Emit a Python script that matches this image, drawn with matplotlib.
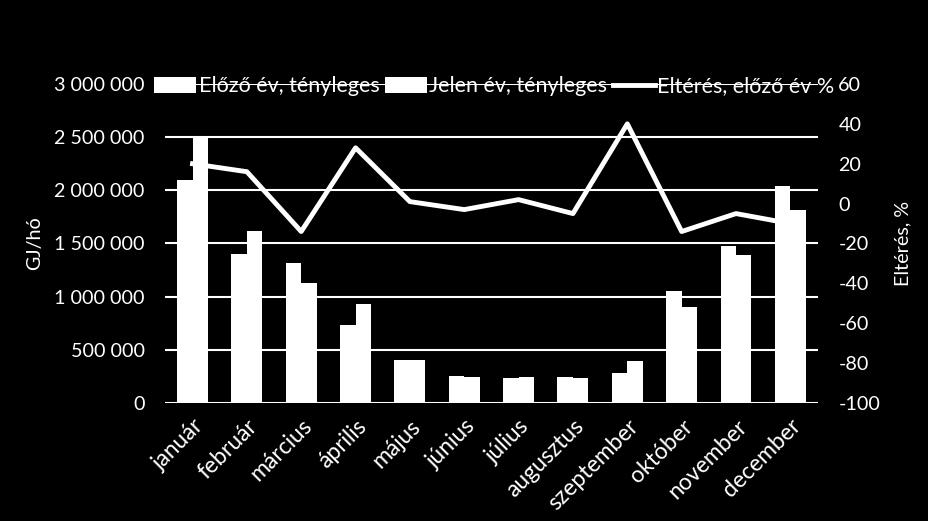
import numpy as np
import matplotlib
matplotlib.use("Agg")
import matplotlib.pyplot as plt

plt.rcParams['font.family'] = ['Lato', 'DejaVu Sans']
plt.rcParams['axes.unicode_minus'] = False

months = ['január', 'február', 'március', 'április', 'május', 'június',
          'július', 'augusztus', 'szeptember', 'október', 'november', 'december']
elozo_ev = [2100000, 1400000, 1314000, 734000, 400000, 254000,
            235000, 245000, 282000, 1051000, 1477000, 2041000]
jelen_ev = [2500000, 1620000, 1129000, 931000, 405000, 242000,
            245000, 235000, 395000, 903000, 1392000, 1816000]
elteres = [20, 16, -14, 28, 1, -3, 2, -5, 40, -14, -5, -10]

fs = 14.2
fig = plt.figure(figsize=(9.29, 5.21), dpi=100, facecolor='black')
ax = fig.add_axes([0.178, 0.2265, 0.702, 0.6123])
ax.set_facecolor('black')

x = np.arange(len(months))
w = 0.285
b1 = ax.bar(x - w / 2, elozo_ev, w, color='white', label='Előző év, tényleges', zorder=3)
b2 = ax.bar(x + w / 2, jelen_ev, w, color='white', label='Jelen év, tényleges', zorder=3)

ax.set_xlim(-0.5, len(months) - 0.5)
ax.set_ylim(0, 3000000)
ax.set_yticks(np.arange(0, 3000001, 500000))
ax.set_yticklabels(['0' if v == 0 else f'{v:,}'.replace(',', ' ') for v in range(0, 3000001, 500000)])
ax.yaxis.grid(True, color='white', linewidth=1.5, zorder=0)
ax.set_axisbelow(True)
ax.set_xticks(x)
ax.set_xticklabels(months, rotation=45, ha='right', rotation_mode='anchor', fontsize=16.5)
for s in ax.spines.values():
    s.set_visible(False)
ax.tick_params(colors='white', labelsize=fs, length=0, pad=15)
ax.tick_params(axis='x', labelsize=16.5, pad=9)
ax.set_ylabel('GJ/hó', color='white', fontsize=fs, labelpad=8)

ax2 = ax.twinx()
ln, = ax2.plot(x, elteres, color='white', linewidth=3.5, label='Eltérés, előző év %', zorder=4)
ax2.set_ylim(-100, 60)
ax2.set_yticks(np.arange(-100, 61, 20))
for s in ax2.spines.values():
    s.set_visible(False)
ax2.tick_params(colors='white', labelsize=fs, length=0, pad=15)
ax2.set_ylabel('Eltérés, %', color='white', fontsize=fs, labelpad=10)

leg = fig.legend(handles=[b1, b2, ln], loc='center', bbox_to_anchor=(0.532, 0.834),
                 ncol=3, frameon=False, fontsize=15.5, handlelength=1.95, handleheight=0.8,
                 columnspacing=0.25, handletextpad=0.12)
for t in leg.get_texts():
    t.set_color('white')

fig.savefig('out.png', dpi=100, facecolor='black')
